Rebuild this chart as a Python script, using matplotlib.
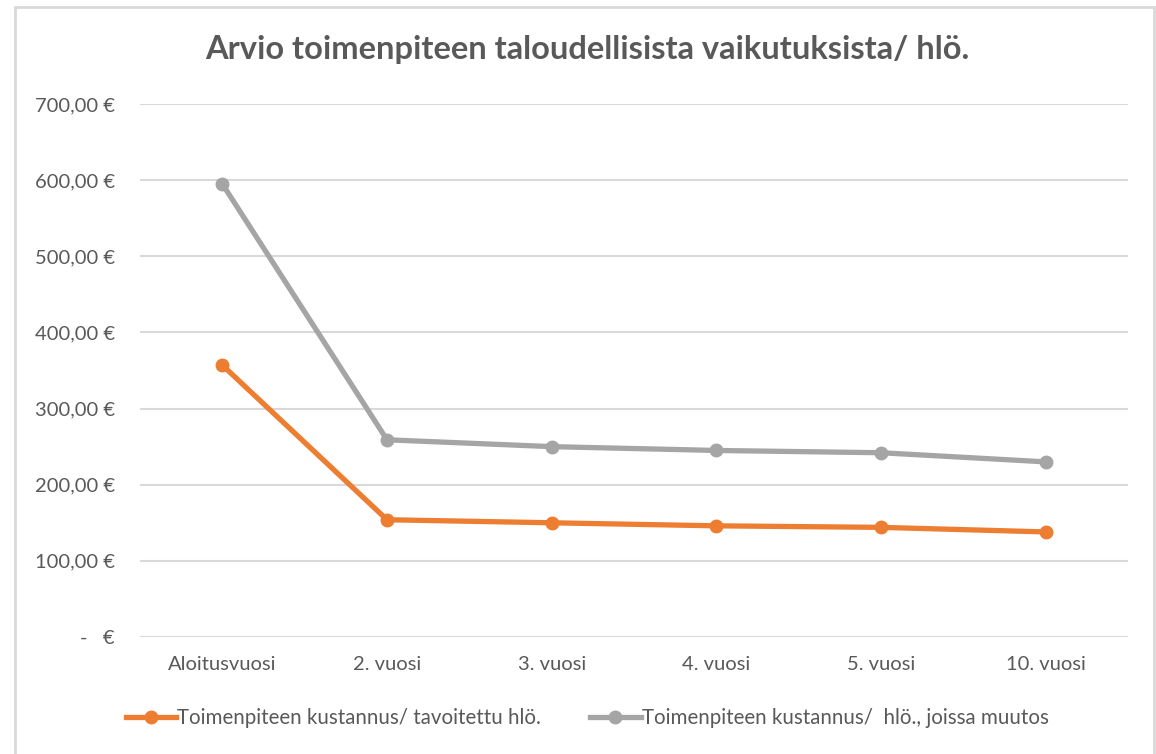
"""Line chart: estimated economic effects of the measure per person."""
from matplotlib import pyplot as plt
from matplotlib.patches import Rectangle
from matplotlib.ticker import FuncFormatter, MultipleLocator

categories = ["Aloitusvuosi", "2. vuosi", "3. vuosi", "4. vuosi", "5. vuosi", "10. vuosi"]
cost_targeted = [357, 154, 150, 146, 144, 138]
cost_changed = [595, 259, 250, 245, 242, 230]
series_labels = ["Toimenpiteen kustannus/ tavoitettu hlö.",
                 "Toimenpiteen kustannus/  hlö., joissa muutos"]
title = "Arvio toimenpiteen taloudellisista vaikutuksista/ hlö."

ORANGE = "#ED7D31"
GRAY = "#A5A5A5"
TEXT = "#595959"
W, H = 1156, 754

plt.rcParams["font.family"] = ["Lato", "DejaVu Sans"]


def euro(v, _pos):
    if v == 0:
        return "-   €"
    return f"{v:,.2f}".replace(",", " ").replace(".", ",").replace(" ", "") + " €"


fig = plt.figure(figsize=(W / 100, H / 100), dpi=100)
fig.patch.set_facecolor("white")
fig.patches.append(Rectangle((15 / W, -0.05), (1154 - 15) / W, 1.05 - 7 / H,
                             transform=fig.transFigure, fill=False,
                             edgecolor="#D9D9D9", linewidth=2))

ax = fig.add_axes([140 / W, 1 - 637 / H, (1128 - 140) / W, (637 - 104) / H])
x = range(len(categories))
ax.plot(x, cost_targeted, color=ORANGE, lw=3.8, marker="o", ms=9, label=series_labels[0])
ax.plot(x, cost_changed, color=GRAY, lw=3.8, marker="o", ms=9, label=series_labels[1])

ax.set_xlim(-0.5, len(categories) - 0.5)
ax.set_ylim(0, 700)
ax.yaxis.set_major_locator(MultipleLocator(100))
ax.yaxis.set_major_formatter(FuncFormatter(euro))
ax.set_xticks(list(x))
ax.set_xticklabels(categories)
ax.grid(axis="y", color="#D9D9D9", lw=1.5)
ax.set_axisbelow(True)
for s in ax.spines.values():
    s.set_visible(False)
ax.tick_params(length=0, labelsize=14.5, colors=TEXT)
ax.tick_params(axis="y", pad=18)
ax.tick_params(axis="x", pad=14)

fig.text(587 / W, 1 - 50 / H, title, ha="center", va="center", fontsize=23.5,
         fontweight="bold", color=TEXT)

fig.legend(loc="center", bbox_to_anchor=(587 / W, 1 - 718 / H), ncol=2, frameon=False,
           fontsize=14.8, labelcolor=TEXT, handlelength=2.45, handletextpad=0.05,
           columnspacing=2.4)

fig.savefig("out.png", dpi=100)
